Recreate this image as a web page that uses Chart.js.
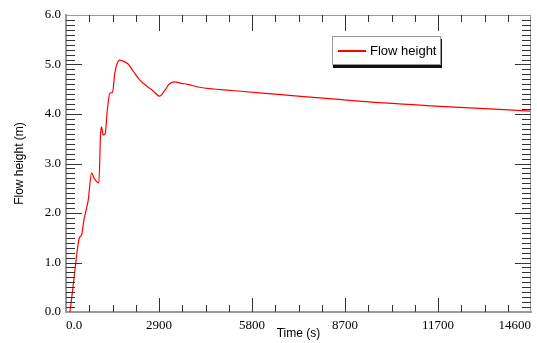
<!DOCTYPE html>
<html>
<head>
<meta charset="utf-8">
<script src="https://cdn.jsdelivr.net/npm/chart.js@4"></script>
<style>
  body { margin: 0; background: #fff; }
  #wrap { position: relative; width: 537px; height: 343px; }
  #legend {
    position: absolute; left: 332px; top: 36px; width: 107px; height: 27px;
    border: 1px solid #999; background: #fff; box-shadow: 1px 3px 0 #111;
    font: 13px "Liberation Sans", Arial, sans-serif; color: #000;
  }
  #legend .swatch { position: absolute; left: 5px; top: 13px; width: 28px; height: 2px; background: #ff0000; }
  #legend .txt { position: absolute; left: 37px; top: 6px; white-space: nowrap; }
</style>
</head>
<body>
<div id="wrap">
  <canvas id="myChart" width="537" height="343"></canvas>
  <div id="legend"><span class="swatch"></span><span class="txt"></span></div>
</div>
<script>
// time (s) and flow height (m)
const times = [125, 197, 281, 354, 416, 490, 563, 646, 698, 802, 885, 1032, 1084, 1115, 1167, 1230,
    1293, 1376, 1460, 1532, 1605, 1688, 1792, 1949, 2105, 2313, 2522, 2730, 2938, 3095, 3251, 3407,
    3616, 3824, 4189, 5300, 6377, 8462, 9190, 11588, 14600];
const heights = [0.0, 0.38, 0.85, 1.25, 1.49, 1.56, 1.86, 2.1, 2.26, 2.81, 2.7, 2.61, 3.58, 3.74, 3.58, 3.6,
    4.05, 4.42, 4.44, 4.82, 5.02, 5.09, 5.07, 5.01, 4.87, 4.69, 4.57, 4.47, 4.36, 4.47, 4.61, 4.65,
    4.62, 4.6, 4.54, 4.47, 4.41, 4.3, 4.26, 4.16, 4.06];
const xTickLabels = ['0.0', '2900', '5800', '8700', '11700', '14600'];
const seriesLabel = 'Flow height';

document.querySelector('#legend .txt').textContent = seriesLabel;

// inward ticks on all four sides plus the thin top/right frame
const frameTicks = {
    id: 'frameTicks',
    afterDraw(chart) {
        const ctx = chart.ctx;
        const a = chart.chartArea;
        const xs = chart.scales.x, ys = chart.scales.y;
        ctx.save();
        ctx.strokeStyle = '#9a9a9a';
        ctx.lineWidth = 1;
        ctx.beginPath();
        ctx.moveTo(a.left, a.top + 0.5); ctx.lineTo(a.right, a.top + 0.5);
        ctx.moveTo(a.right - 0.5, a.top); ctx.lineTo(a.right - 0.5, a.bottom);
        ctx.stroke();

        ctx.strokeStyle = '#333';
        ctx.beginPath();
        for (let i = 1; i < 20; i++) {
            const px = Math.round(xs.getPixelForValue(i * 730)) + 0.5;
            const len = i % 4 === 0 ? 14 : 7;
            ctx.moveTo(px, a.bottom); ctx.lineTo(px, a.bottom - len);
            ctx.moveTo(px, a.top); ctx.lineTo(px, a.top + len + (i % 4 === 0 ? 2 : 0));
        }
        for (let i = 1; i < 60; i++) {
            const py = Math.round(ys.getPixelForValue(i / 10)) + 0.5;
            const len = i % 10 === 0 ? 16 : 9;
            ctx.moveTo(a.left, py); ctx.lineTo(a.left + len, py);
            ctx.moveTo(a.right, py); ctx.lineTo(a.right - len, py);
        }
        ctx.stroke();
        ctx.restore();
    }
};

const ctx = document.getElementById('myChart').getContext('2d');
new Chart(ctx, {
    type: 'line',
    data: {
        datasets: [{
            label: seriesLabel,
            data: times.map((t, i) => ({ x: t, y: heights[i] })),
            borderColor: '#ff0000',
            borderWidth: 1.2,
            pointRadius: 0,
            fill: false,
            cubicInterpolationMode: 'monotone'
        }]
    },
    options: {
        responsive: false,
        animation: false,
        layout: { padding: { top: 15, right: 4, left: 0, bottom: 0 } },
        plugins: { legend: { display: false }, tooltip: { enabled: false } },
        scales: {
            x: {
                type: 'linear',
                min: 0,
                max: 14600,
                afterFit: s => { s.height = 31; },
                afterBuildTicks: s => { s.ticks = xTickLabels.map((_, i) => ({ value: i * 2920 })); },
                grid: { display: false, drawTicks: false },
                border: { display: true, color: '#9a9a9a', width: 2 },
                ticks: {
                    align: 'inner',
                    padding: 6,
                    maxRotation: 0,
                    autoSkip: false,
                    color: '#000',
                    font: { family: '"Liberation Serif", serif', size: 13 },
                    callback: (v, i) => xTickLabels[i]
                },
                title: {
                    display: true,
                    text: 'Time (s)',
                    color: '#000',
                    font: { family: '"Liberation Sans", Arial, sans-serif', size: 12 },
                    padding: { top: 0, bottom: 2 }
                }
            },
            y: {
                min: 0,
                max: 6,
                afterFit: s => { s.width = 66; },
                grid: { display: false, drawTicks: false },
                border: { display: true, color: '#9a9a9a', width: 2 },
                ticks: {
                    stepSize: 1,
                    padding: 5,
                    color: '#000',
                    font: { family: '"Liberation Serif", serif', size: 13 },
                    callback: v => v.toFixed(1)
                },
                title: {
                    display: true,
                    text: 'Flow height (m)',
                    color: '#000',
                    font: { family: '"Liberation Sans", Arial, sans-serif', size: 12 },
                    padding: { top: 12, bottom: 0 }
                }
            }
        }
    },
    plugins: [frameTicks]
});
</script>
</body>
</html>
